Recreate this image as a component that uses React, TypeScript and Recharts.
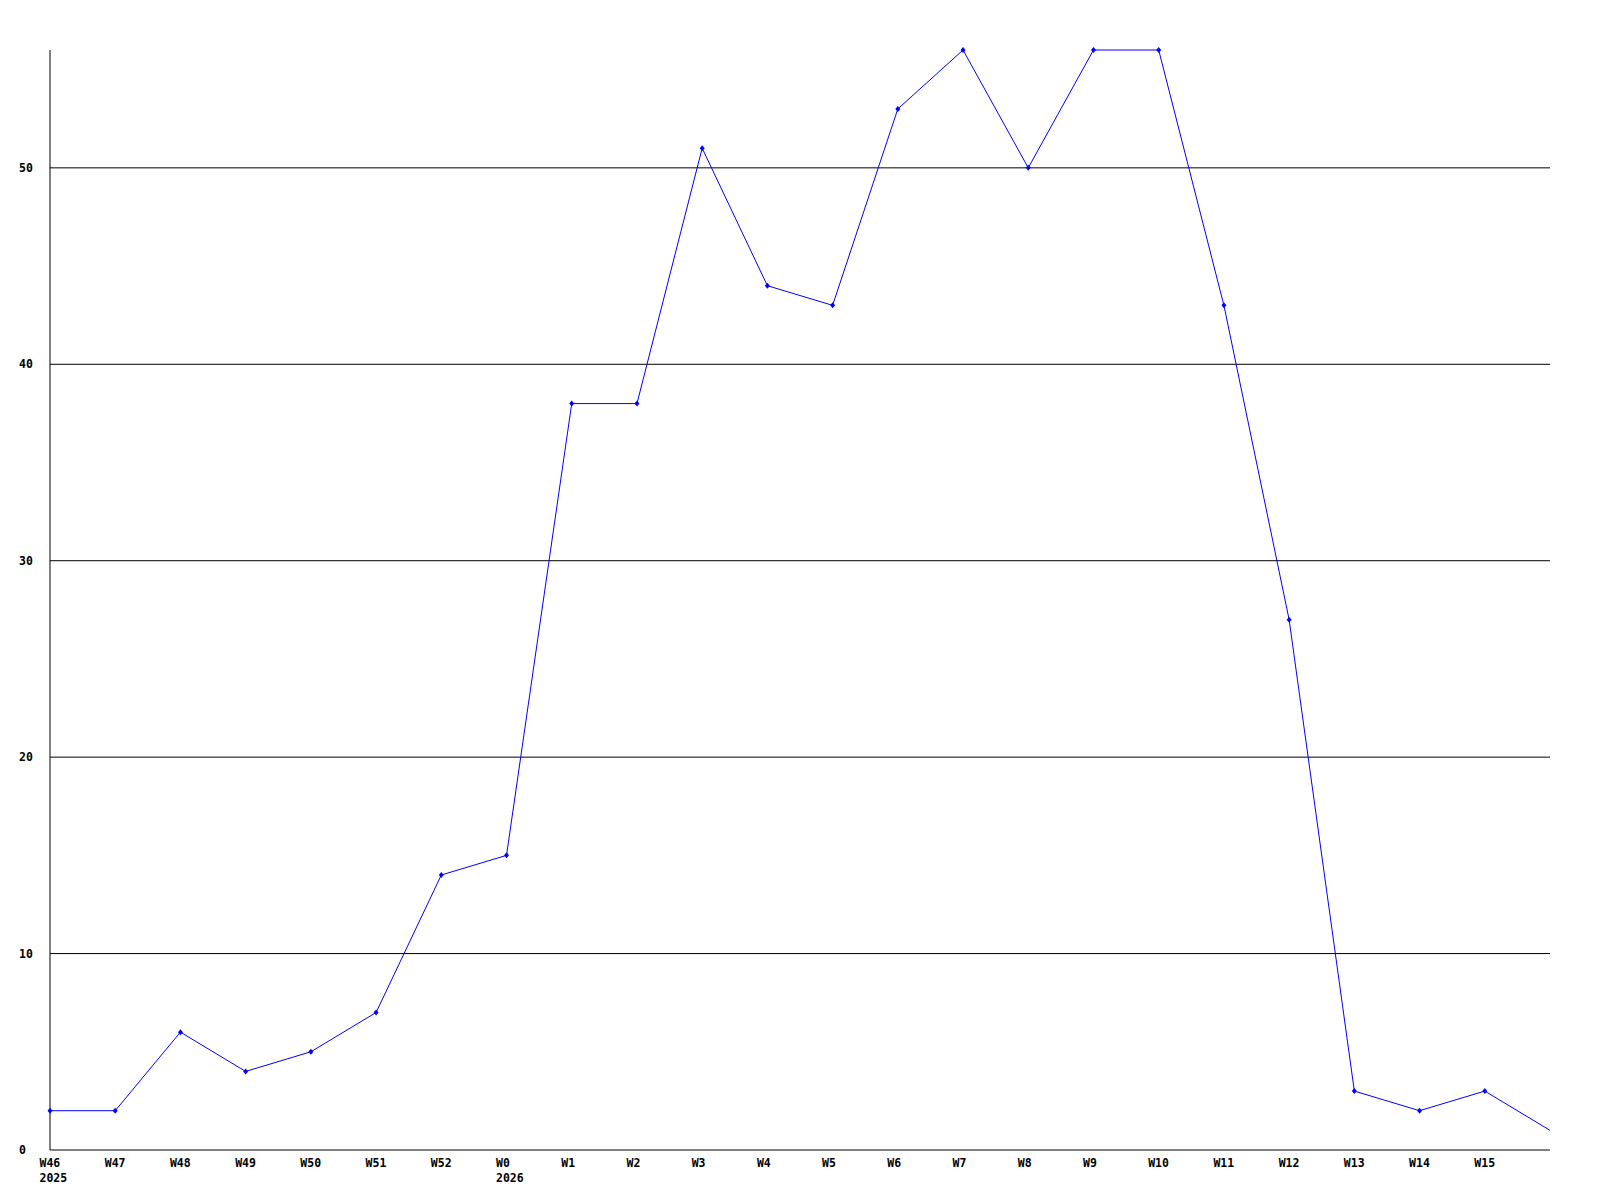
import { LineChart, Line, XAxis, YAxis, CartesianGrid } from "recharts";

const weeks = [
  "W46", "W47", "W48", "W49", "W50", "W51", "W52",
  "W0", "W1", "W2", "W3", "W4", "W5", "W6", "W7", "W8", "W9", "W10",
  "W11", "W12", "W13", "W14", "W15", "",
];
const years = [
  "2025", "", "", "", "", "", "",
  "2026", "", "", "", "", "", "", "", "", "", "",
  "", "", "", "", "", "",
];
const counts = [2, 2, 6, 4, 5, 7, 14, 15, 38, 38, 51, 44, 43, 53, 56, 50, 56, 56, 43, 27, 3, 2, 3, 1];
const yTicks = [0, 10, 20, 30, 40, 50];
const gridValues = [10, 20, 30, 40, 50];

const data = weeks.map((w, i) => ({ week: w, year: years[i], count: counts[i] }));

const FONT = "'DejaVu Sans Mono', monospace";

// labels start a little left of the tick position
const XTick = ({ x, y, payload, index }: any) => {
  const yr = years[index];
  return (
    <g>
      <text x={x - 10.5} y={y + 5} textAnchor="start" dominantBaseline="central"
        fontFamily={FONT} fontSize={11.5} fontWeight="bold" fill="#000">
        {payload.value}
      </text>
      {yr && (
        <text x={x - 10.5} y={y + 20} textAnchor="start" dominantBaseline="central"
          fontFamily={FONT} fontSize={11.5} fontWeight="bold" fill="#000">
          {yr}
        </text>
      )}
    </g>
  );
};

const YTick = ({ y, payload }: any) => (
  <text x={19} y={y} textAnchor="start" dominantBaseline="central"
    fontFamily={FONT} fontSize={11.5} fontWeight="bold" fill="#000">
    {payload.value}
  </text>
);

const Dot = ({ cx, cy, index }: any) => {
  if (index === counts.length - 1) return <g key={index} />;
  return (
    <path key={index}
      d={`M${cx},${cy - 3}L${cx + 2.5},${cy}L${cx},${cy + 3}L${cx - 2.5},${cy}Z`}
      fill="#0000ff" stroke="none" />
  );
};

export default function App() {
  return (
    <div style={{ position: "absolute", left: 0, top: 0, width: 1600, height: 1200, background: "#fff" }}>
      <LineChart width={1600} height={1200} data={data}
        margin={{ top: 50, right: 50, left: 0, bottom: 0 }}>
        <CartesianGrid vertical={false} horizontalValues={gridValues} stroke="#000" strokeWidth={1} />
        <XAxis dataKey="week" interval={0} padding={{ left: 0, right: 0 }}
          height={50} tickLine={false} axisLine={{ stroke: "#000" }} tick={<XTick />} />
        <YAxis domain={[0, 56]} ticks={yTicks} width={50} tickLine={false}
          axisLine={{ stroke: "#000" }} tick={<YTick />} />
        <Line type="linear" dataKey="count" stroke="#0000ff" strokeWidth={1}
          dot={<Dot />} activeDot={false} isAnimationActive={false} />
      </LineChart>
    </div>
  );
}
